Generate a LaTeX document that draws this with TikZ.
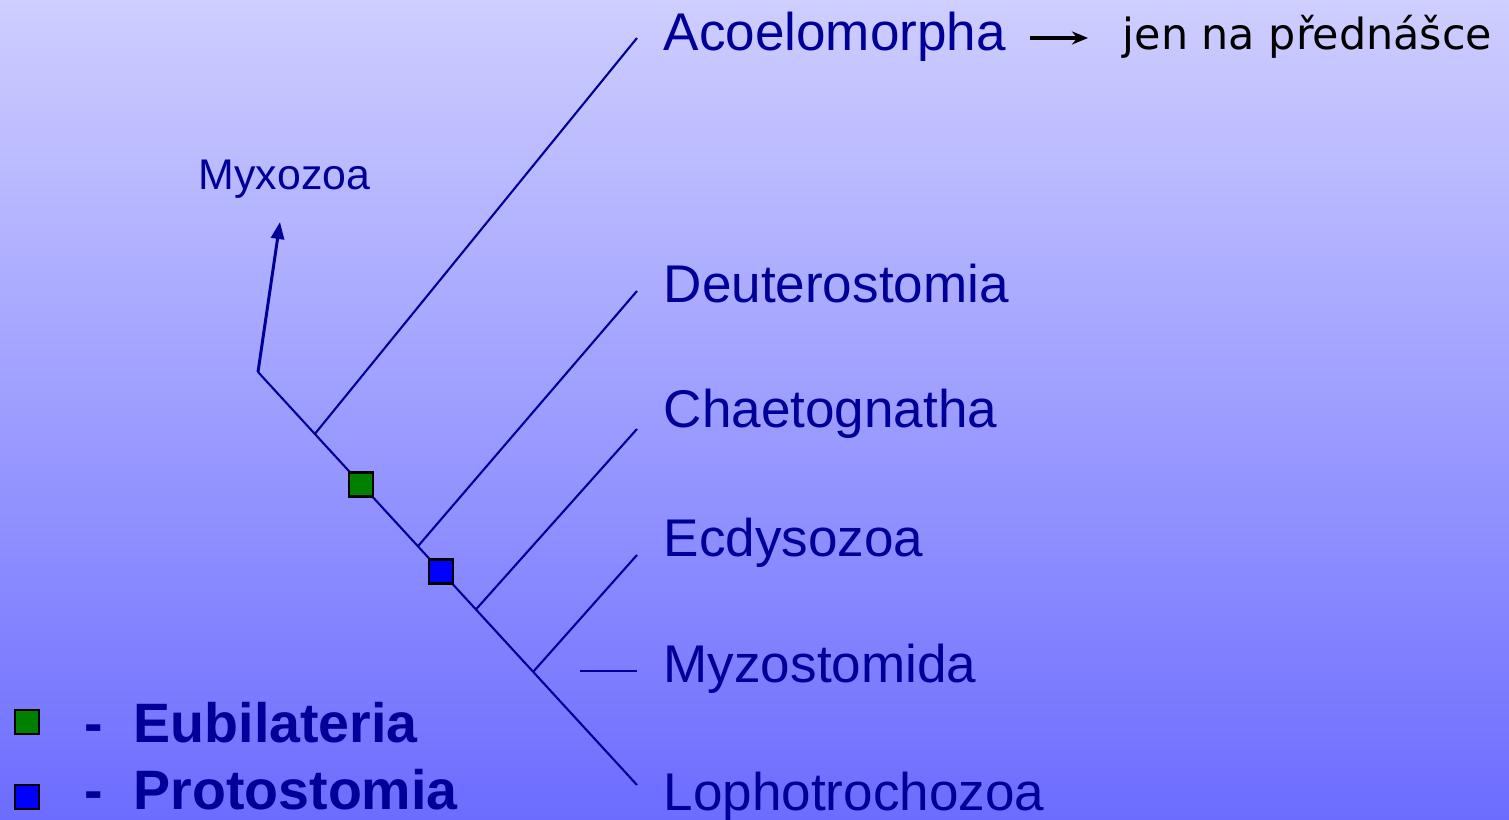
\documentclass[tikz,border=0pt]{standalone}
\usepackage{fontspec}
\setmainfont{Liberation Sans}
\newfontfamily\notefont{DejaVu Sans}
\usetikzlibrary{calc,positioning,arrows.meta}

\definecolor{treeblue}{RGB}{0,0,153}
\definecolor{bgtop}{RGB}{206,206,255}
\definecolor{bgbottom}{RGB}{108,108,255}
\definecolor{eubgreen}{RGB}{0,128,0}

\tikzset{
  taxon/.style={anchor=base west, inner sep=0pt, text=treeblue, font=\fontsize{15.1}{17}\selectfont},
  legendtext/.style={anchor=base west, inner sep=0pt, text=treeblue, font=\fontsize{15.8}{18}\selectfont\bfseries},
  branch/.style={draw=treeblue, line width=0.6pt},
  marker/.style={draw=black, line width=0.8pt, minimum size=0.24cm, inner sep=0pt}
}

\begin{document}
\begin{tikzpicture}
        % Background
        \shade[top color=bgtop, bottom color=bgbottom] (0,0) rectangle (15.09,8.20);
        \useasboundingbox (0,0) rectangle (15.09,8.20);

        % Root and end of the main line
        \coordinate (root) at (2.58,4.48);
        \coordinate (lophEnd) at (6.37,0.35);

        % Branch points on the main line
        \coordinate (bAcoel) at ($(root)!0.150!(lophEnd)$);
        \coordinate (bDeut) at ($(root)!0.422!(lophEnd)$);
        \coordinate (bChaet) at ($(root)!0.575!(lophEnd)$);
        \coordinate (bEcdy) at ($(root)!0.726!(lophEnd)$);

        % Tips of the branches
        \coordinate (tAcoel) at (6.37,7.82);
        \coordinate (tDeut) at (6.37,5.29);
        \coordinate (tChaet) at (6.37,3.91);
        \coordinate (tEcdy) at (6.37,2.65);
        \coordinate (myzoStart) at (5.80,1.49);
        \coordinate (tMyzo) at (6.37,1.49);
        \coordinate (tMyxo) at (2.80,5.98);

        % Labels of the taxa
        \node[taxon] (acoel) at (6.63,7.69) {Acoelomorpha};
        \node[taxon] (deut) at (6.63,5.17) {Deuterostomia};
        \node[taxon] (chaet) at (6.63,3.92) {Chaetognatha};
        \node[taxon] (ecdy) at (6.63,2.63) {Ecdysozoa};
        \node[taxon] (myzo) at (6.63,1.37) {Myzostomida};
        \node[taxon] (loph) at (6.63,0.09) {Lophotrochozoa};
        \node[taxon, font=\fontsize{12.2}{14}\selectfont] (myxo) at (1.98,6.30) {Myxozoa};

        % Note at the top
        \node[anchor=base west, inner sep=0pt, font=\notefont\fontsize{12.2}{14}\selectfont] (note) at (11.22,7.70) {jen na přednášce};
        \coordinate (noteArrowStart) at (10.30,7.82);
        \coordinate (noteArrowEnd) at (10.88,7.82);
        \draw[line width=1pt, -{Stealth[length=0.16cm, width=0.13cm]}] (noteArrowStart) -- (noteArrowEnd);

        % Tree
        \draw[branch] (root) -- (lophEnd);
        \draw[branch] (bAcoel) -- (tAcoel);
        \draw[branch] (bDeut) -- (tDeut);
        \draw[branch] (bChaet) -- (tChaet);
        \draw[branch] (bEcdy) -- (tEcdy);
        \draw[branch] (myzoStart) -- (tMyzo);
        \draw[draw=treeblue, line width=0.85pt, -{Triangle[length=0.17cm, width=0.13cm]}] (root) -- (tMyxo);

        % Markers on the main line
        \node[marker, fill=eubgreen] (eubMark) at ($(root)!0.272!(lophEnd)$) {};
        \node[marker, fill=blue] (protMark) at ($(root)!0.483!(lophEnd)$) {};

        % Legend
        \node[marker, fill=eubgreen] (eubKey) at (0.27,0.98) {};
        \node[marker, fill=blue] (protKey) at (0.27,0.23) {};
        \node[legendtext] (eubDash) at (0.84,0.77) {-};
        \node[legendtext] (protDash) at (0.84,0.10) {-};
        \node[legendtext] (eub) at (1.33,0.77) {Eubilateria};
        \node[legendtext] (prot) at (1.33,0.10) {Protostomia};
    \end{tikzpicture}
\end{document}
